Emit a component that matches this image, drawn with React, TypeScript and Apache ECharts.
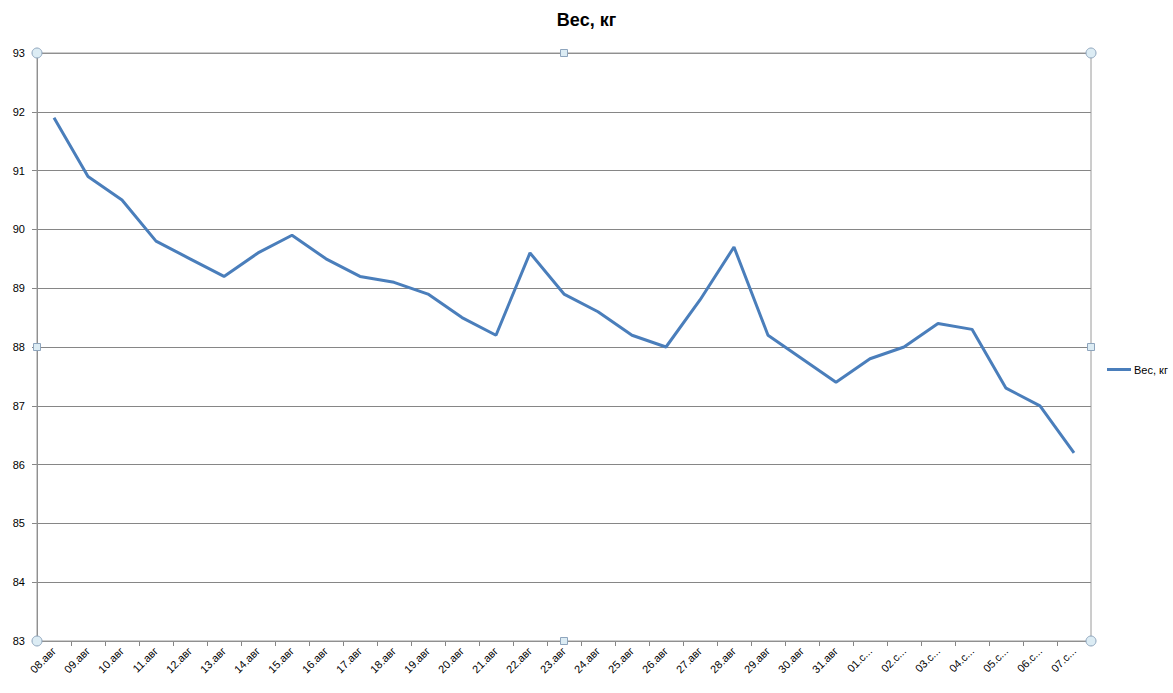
import React, { useEffect, useRef } from "react";
import * as echarts from "echarts";

const categories = [
  "08.авг", "09.авг", "10.авг", "11.авг", "12.авг", "13.авг", "14.авг", "15.авг",
  "16.авг", "17.авг", "18.авг", "19.авг", "20.авг", "21.авг", "22.авг", "23.авг",
  "24.авг", "25.авг", "26.авг", "27.авг", "28.авг", "29.авг", "30.авг", "31.авг",
  "01.сен", "02.сен", "03.сен", "04.сен", "05.сен", "06.сен", "07.сен",
];
const weight = [
  91.9, 90.9, 90.5, 89.8, 89.5, 89.2, 89.6, 89.9,
  89.5, 89.2, 89.1, 88.9, 88.5, 88.2, 89.6, 88.9,
  88.6, 88.2, 88.0, 88.8, 89.7, 88.2, 87.8, 87.4,
  87.8, 88.0, 88.4, 88.3, 87.3, 87.0, 86.2,
];
const seriesName = "Вес, кг";
const yMin = 83;
const yMax = 93;

const FONT = "Liberation Sans, Arial, sans-serif";

export default function App() {
  const ref = useRef<HTMLDivElement>(null);
  useEffect(() => {
    document.body.style.margin = "0";
    const chart = echarts.init(ref.current!, null, { renderer: "svg" });
    const L = 37, R = 1091, T = 53, B = 641;
    const mx = (L + R) / 2, my = (T + B) / 2;
    const handleStyle = { fill: "#dcecf4", stroke: "#8ea5bd", lineWidth: 1 };
    const circles = [[L, T], [R, T], [L, B], [R, B]].map(([x, y]) => ({
      type: "circle", shape: { cx: x, cy: y, r: 5 }, style: handleStyle, z: 100,
    }));
    const squares = [[mx, T], [mx, B], [L, my], [R, my]].map(([x, y]) => ({
      type: "rect", shape: { x: x - 3.5, y: y - 3.5, width: 7, height: 7 }, style: handleStyle, z: 100,
    }));
    chart.setOption({
      animation: false,
      backgroundColor: "#ffffff",
      title: {
        text: seriesName,
        left: "center",
        top: 6,
        textStyle: { fontFamily: FONT, fontSize: 18, fontWeight: "bold", color: "#000" },
      },
      legend: {
        orient: "vertical",
        left: 1102,
        top: 359,
        icon: "rect",
        itemWidth: 24,
        itemHeight: 3,
        itemGap: 4,
        textStyle: { fontFamily: FONT, fontSize: 11, color: "#000", padding: [0, 0, 0, -2] },
        data: [seriesName],
      },
      grid: { left: L, right: 1173 - R, top: T, bottom: 693 - B, containLabel: false },
      xAxis: {
        type: "category",
        data: categories,
        boundaryGap: true,
        axisLine: { show: true, lineStyle: { color: "#868686", width: 1 } },
        axisTick: { show: true, alignWithLabel: false, interval: 0, length: 5, lineStyle: { color: "#868686" } },
        axisLabel: {
          interval: 0,
          rotate: 45,
          margin: 8,
          fontFamily: FONT,
          fontSize: 11,
          color: "#000",
          formatter: (v: string) => (v.endsWith("сен") ? v.slice(0, 4) + "..." : v),
        },
        splitLine: { show: false },
      },
      yAxis: {
        type: "value",
        min: yMin,
        max: yMax,
        interval: 1,
        axisLine: { show: true, lineStyle: { color: "#868686", width: 1 } },
        axisTick: { show: true, length: 5, lineStyle: { color: "#868686" } },
        axisLabel: { fontFamily: FONT, fontSize: 11, color: "#000", margin: 12 },
        splitLine: { show: true, lineStyle: { color: "#868686", width: 1 } },
      },
      series: [
        {
          name: seriesName,
          type: "line",
          data: weight,
          symbol: "none",
          lineStyle: { color: "#4a7ebb", width: 3 },
          itemStyle: { color: "#4a7ebb" },
        },
      ],
      graphic: [
        {
          type: "rect",
          shape: { x: L, y: T, width: R - L, height: B - T },
          style: { fill: "none", stroke: "#9a9a9a", lineWidth: 1 },
          z: 50,
          silent: true,
        },
        ...circles,
        ...squares,
      ],
    });
    return () => chart.dispose();
  }, []);
  return <div ref={ref} style={{ width: 1173, height: 693 }} />;
}
